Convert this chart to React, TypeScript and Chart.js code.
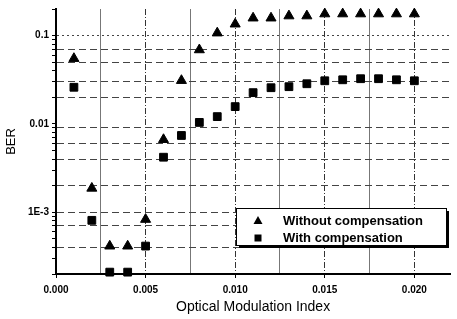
import { useEffect, useRef } from 'react';
import { Chart, registerables } from 'chart.js';

Chart.register(...registerables);

const modulationIndex = [0.001, 0.002, 0.003, 0.004, 0.005, 0.006, 0.007, 0.008, 0.009, 0.010, 0.011, 0.012, 0.013, 0.014, 0.015, 0.016, 0.017, 0.018, 0.019, 0.020];
const berWithout = [0.055, 0.00187, 0.000414, 0.000414, 0.00083, 0.00665, 0.031, 0.069, 0.107, 0.135, 0.158, 0.158, 0.167, 0.167, 0.176, 0.176, 0.176, 0.176, 0.176, 0.176];
const berWith = [0.026, 0.00081, 0.00021, 0.00021, 0.000414, 0.0042, 0.0074, 0.0104, 0.0121, 0.0157, 0.0226, 0.0257, 0.0264, 0.0285, 0.0308, 0.0316, 0.0325, 0.0325, 0.0316, 0.0308];
const seriesNames = ['Without compensation', 'With compensation'];

const xMin = 0;
const xMax = 0.022;
const xTickValues = [0, 0.0025, 0.005, 0.0075, 0.01, 0.0125, 0.015, 0.0175, 0.02];
const xLabelValues = [0, 0.005, 0.01, 0.015, 0.02];
const xTickLabels = ['0.000', '0.005', '0.010', '0.015', '0.020'];

const yMin = 0.0002;
const yMax = 0.2;
const yMajorValues = [0.001, 0.01, 0.1];
const yTickLabels = ['1E-3', '0.01', '0.1'];
const yGridValues = [0.1, 0.07, 0.05, 0.03, 0.02, 0.009, 0.006, 0.004, 0.002, 0.001, 0.0007, 0.0004];

const near = (a: number, b: number) => Math.abs(a - b) <= Math.abs(b) * 1e-6 + 1e-12;
const indexIn = (list: number[], v: number) => list.findIndex((t) => near(v, t));

const FONT = "'Liberation Sans', Arial, sans-serif";

export default function App() {
  const ref = useRef<HTMLCanvasElement>(null);

  useEffect(() => {
    document.body.style.margin = '0';
    if (!ref.current) return;

    const yTicks: number[] = [];
    for (let e = -4; e <= -1; e++) {
      for (let m = 1; m <= 9; m++) {
        const v = m * Math.pow(10, e);
        if (v >= yMin * 0.9999 && v <= yMax * 1.0001) yTicks.push(v);
      }
    }

    const legendPlugin = {
      id: 'boxLegend',
      afterDraw(chart: any) {
        const c = chart.ctx as CanvasRenderingContext2D;
        const x = 236, y = 208, w = 210, h = 37;
        c.save();
        c.fillStyle = '#000';
        c.fillRect(x + 3, y + 3, w, h);
        c.fillStyle = '#fff';
        c.fillRect(x, y, w, h);
        c.strokeStyle = '#000';
        c.lineWidth = 1;
        c.strokeRect(x + 0.5, y + 0.5, w, h);
        seriesNames.forEach((name, i) => {
          const cy = y + 13 + i * 17;
          const mx = 258;
          c.fillStyle = '#000';
          c.beginPath();
          if (i === 0) {
            c.moveTo(mx, cy - 5);
            c.lineTo(mx + 4.5, cy + 3);
            c.lineTo(mx - 4.5, cy + 3);
            c.closePath();
          } else {
            c.rect(mx - 3.5, cy - 3.5, 7, 7);
          }
          c.fill();
          c.font = `bold 13px ${FONT}`;
          c.textAlign = 'left';
          c.textBaseline = 'middle';
          c.fillText(name, 283, cy);
        });
        c.restore();
      },
    };

    const chart = new Chart(ref.current, {
      type: 'scatter',
      data: {
        datasets: [
          {
            label: seriesNames[0],
            data: modulationIndex.map((x, i) => ({ x, y: berWithout[i] })),
            pointStyle: 'triangle',
            pointRadius: 5.8,
            backgroundColor: '#000',
            borderColor: '#000',
            borderWidth: 1,
            clip: false,
          },
          {
            label: seriesNames[1],
            data: modulationIndex.map((x, i) => ({ x, y: berWith[i] })),
            pointStyle: 'rect',
            pointRadius: 5.5,
            backgroundColor: '#000',
            borderColor: '#000',
            borderWidth: 1,
            clip: false,
          },
        ],
      },
      options: {
        animation: false,
        responsive: true,
        maintainAspectRatio: false,
        layout: { padding: { top: 8, right: 6, left: 0, bottom: 0 } },
        plugins: { legend: { display: false }, tooltip: { enabled: false } },
        scales: {
          x: {
            type: 'linear',
            min: xMin,
            max: xMax,
            afterBuildTicks: (s: any) => {
              s.ticks = xTickValues.map((value) => ({ value }));
            },
            afterFit: (s: any) => {
              s.height = 45;
            },
            ticks: {
              autoSkip: false,
              maxRotation: 0,
              padding: 6,
              color: '#000',
              font: { family: FONT, size: 10, weight: 'bold' },
              callback: (v: any) => {
                const k = indexIn(xLabelValues, Number(v));
                return k >= 0 ? xTickLabels[k] : '';
              },
            },
            grid: {
              lineWidth: 1,
              color: (ctx: any) => {
                const v = ctx.tick ? ctx.tick.value : 0;
                if (near(v, 0)) return 'rgba(0,0,0,0)';
                return indexIn(xLabelValues, v) >= 0 ? '#333' : '#777';
              },
              tickColor: (ctx: any) => {
                const v = ctx.tick ? ctx.tick.value : 0;
                return indexIn(xLabelValues, v) >= 0 ? '#000' : 'rgba(0,0,0,0)';
              },
              tickLength: 4,
            },
            border: {
              display: true,
              color: '#000',
              width: 2,
              dash: (ctx: any) => {
                const v = ctx.tick ? ctx.tick.value : 0;
                return ctx.tick && indexIn(xLabelValues, v) >= 0 ? [6, 2, 1, 2] : [];
              },
            },
            title: {
              display: true,
              text: 'Optical Modulation Index',
              color: '#000',
              font: { family: FONT, size: 14 },
              padding: { top: 0, bottom: 3 },
            },
          },
          y: {
            type: 'logarithmic',
            min: yMin,
            max: yMax,
            afterBuildTicks: (s: any) => {
              s.ticks = yTicks.map((value) => ({ value, major: indexIn(yMajorValues, value) >= 0 }));
            },
            afterFit: (s: any) => {
              s.width = 56;
            },
            ticks: {
              autoSkip: false,
              padding: 3,
              color: '#000',
              font: { family: FONT, size: 10, weight: 'bold' },
              callback: (v: any) => {
                const k = indexIn(yMajorValues, Number(v));
                return k >= 0 ? yTickLabels[k] : '';
              },
            },
            grid: {
              lineWidth: 1,
              color: (ctx: any) => {
                const v = ctx.tick ? ctx.tick.value : 0;
                return indexIn(yGridValues, v) >= 0 ? '#444' : 'rgba(0,0,0,0)';
              },
              tickColor: '#000',
              tickLength: 4,
            },
            border: {
              display: true,
              color: '#000',
              width: 2,
              dash: (ctx: any) => {
                const v = ctx.tick ? ctx.tick.value : 0;
                if (!ctx.tick) return [];
                return near(v, 0.1) ? [2, 3] : [7, 4];
              },
            },
            title: {
              display: true,
              text: 'BER',
              color: '#000',
              font: { family: FONT, size: 13 },
              padding: { top: 4, bottom: 0 },
            },
          },
        },
      },
      plugins: [legendPlugin],
    } as any);

    return () => chart.destroy();
  }, []);

  return (
    <div style={{ position: 'relative', width: 457, height: 319 }}>
      <canvas ref={ref} />
    </div>
  );
}
